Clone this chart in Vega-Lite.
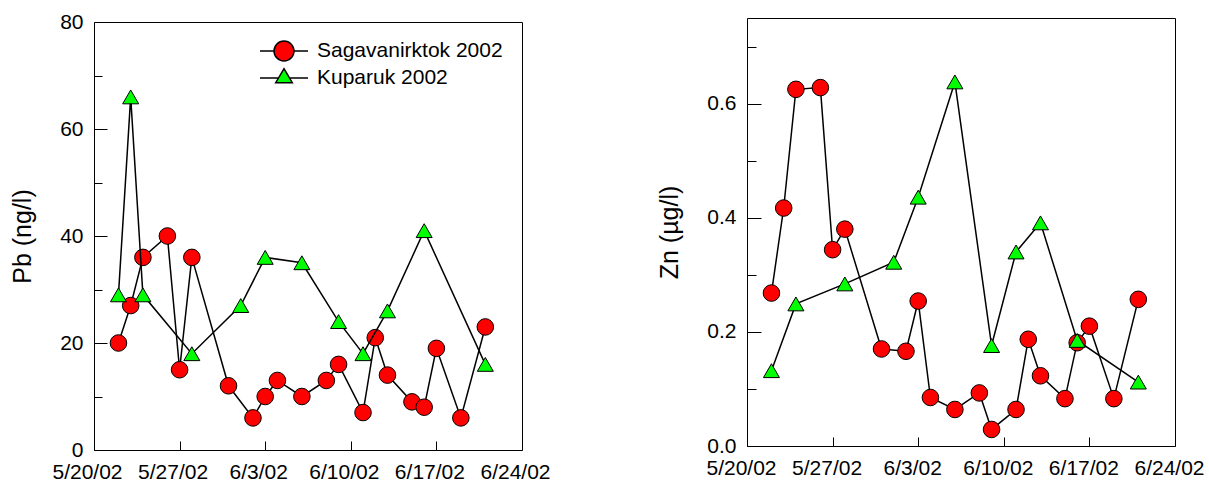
{
  "$schema": "https://vega.github.io/schema/vega-lite/v6.json",
  "background": "white",
  "padding": {"left": 10, "top": 10, "right": 5, "bottom": 5},
  "spacing": 106,
  "datasets": {
    "pb": [
      {"date": "2002/05/22", "series": "Sagavanirktok 2002", "value": 20},
      {"date": "2002/05/23", "series": "Sagavanirktok 2002", "value": 27},
      {"date": "2002/05/24", "series": "Sagavanirktok 2002", "value": 36},
      {"date": "2002/05/26", "series": "Sagavanirktok 2002", "value": 40},
      {"date": "2002/05/27", "series": "Sagavanirktok 2002", "value": 15},
      {"date": "2002/05/28", "series": "Sagavanirktok 2002", "value": 36},
      {"date": "2002/05/31", "series": "Sagavanirktok 2002", "value": 12},
      {"date": "2002/06/02", "series": "Sagavanirktok 2002", "value": 6},
      {"date": "2002/06/03", "series": "Sagavanirktok 2002", "value": 10},
      {"date": "2002/06/04", "series": "Sagavanirktok 2002", "value": 13},
      {"date": "2002/06/06", "series": "Sagavanirktok 2002", "value": 10},
      {"date": "2002/06/08", "series": "Sagavanirktok 2002", "value": 13},
      {"date": "2002/06/09", "series": "Sagavanirktok 2002", "value": 16},
      {"date": "2002/06/11", "series": "Sagavanirktok 2002", "value": 7},
      {"date": "2002/06/12", "series": "Sagavanirktok 2002", "value": 21},
      {"date": "2002/06/13", "series": "Sagavanirktok 2002", "value": 14},
      {"date": "2002/06/15", "series": "Sagavanirktok 2002", "value": 9},
      {"date": "2002/06/16", "series": "Sagavanirktok 2002", "value": 8},
      {"date": "2002/06/17", "series": "Sagavanirktok 2002", "value": 19},
      {"date": "2002/06/19", "series": "Sagavanirktok 2002", "value": 6},
      {"date": "2002/06/21", "series": "Sagavanirktok 2002", "value": 23},
      {"date": "2002/05/22", "series": "Kuparuk 2002", "value": 29},
      {"date": "2002/05/23", "series": "Kuparuk 2002", "value": 66},
      {"date": "2002/05/24", "series": "Kuparuk 2002", "value": 29},
      {"date": "2002/05/28", "series": "Kuparuk 2002", "value": 18},
      {"date": "2002/06/01", "series": "Kuparuk 2002", "value": 27},
      {"date": "2002/06/03", "series": "Kuparuk 2002", "value": 36},
      {"date": "2002/06/06", "series": "Kuparuk 2002", "value": 35},
      {"date": "2002/06/09", "series": "Kuparuk 2002", "value": 24},
      {"date": "2002/06/11", "series": "Kuparuk 2002", "value": 18},
      {"date": "2002/06/13", "series": "Kuparuk 2002", "value": 26},
      {"date": "2002/06/16", "series": "Kuparuk 2002", "value": 41},
      {"date": "2002/06/21", "series": "Kuparuk 2002", "value": 16}
    ],
    "zn": [
      {"date": "2002/05/22", "series": "Sagavanirktok 2002", "value": 0.268},
      {"date": "2002/05/23", "series": "Sagavanirktok 2002", "value": 0.417},
      {"date": "2002/05/24", "series": "Sagavanirktok 2002", "value": 0.625},
      {"date": "2002/05/26", "series": "Sagavanirktok 2002", "value": 0.628},
      {"date": "2002/05/27", "series": "Sagavanirktok 2002", "value": 0.344},
      {"date": "2002/05/28", "series": "Sagavanirktok 2002", "value": 0.380},
      {"date": "2002/05/31", "series": "Sagavanirktok 2002", "value": 0.170},
      {"date": "2002/06/02", "series": "Sagavanirktok 2002", "value": 0.166},
      {"date": "2002/06/03", "series": "Sagavanirktok 2002", "value": 0.254},
      {"date": "2002/06/04", "series": "Sagavanirktok 2002", "value": 0.085},
      {"date": "2002/06/06", "series": "Sagavanirktok 2002", "value": 0.064},
      {"date": "2002/06/08", "series": "Sagavanirktok 2002", "value": 0.093},
      {"date": "2002/06/09", "series": "Sagavanirktok 2002", "value": 0.029},
      {"date": "2002/06/11", "series": "Sagavanirktok 2002", "value": 0.064},
      {"date": "2002/06/12", "series": "Sagavanirktok 2002", "value": 0.187},
      {"date": "2002/06/13", "series": "Sagavanirktok 2002", "value": 0.123},
      {"date": "2002/06/15", "series": "Sagavanirktok 2002", "value": 0.083},
      {"date": "2002/06/16", "series": "Sagavanirktok 2002", "value": 0.181},
      {"date": "2002/06/17", "series": "Sagavanirktok 2002", "value": 0.210},
      {"date": "2002/06/19", "series": "Sagavanirktok 2002", "value": 0.083},
      {"date": "2002/06/21", "series": "Sagavanirktok 2002", "value": 0.257},
      {"date": "2002/05/22", "series": "Kuparuk 2002", "value": 0.132},
      {"date": "2002/05/24", "series": "Kuparuk 2002", "value": 0.249},
      {"date": "2002/05/28", "series": "Kuparuk 2002", "value": 0.284},
      {"date": "2002/06/01", "series": "Kuparuk 2002", "value": 0.322},
      {"date": "2002/06/03", "series": "Kuparuk 2002", "value": 0.436},
      {"date": "2002/06/06", "series": "Kuparuk 2002", "value": 0.638},
      {"date": "2002/06/09", "series": "Kuparuk 2002", "value": 0.176},
      {"date": "2002/06/11", "series": "Kuparuk 2002", "value": 0.340},
      {"date": "2002/06/13", "series": "Kuparuk 2002", "value": 0.391},
      {"date": "2002/06/16", "series": "Kuparuk 2002", "value": 0.185},
      {"date": "2002/06/21", "series": "Kuparuk 2002", "value": 0.112}
    ]
  },
  "hconcat": [
    {
      "vconcat": [
        {
          "width": 1,
          "height": 1,
          "view": {"stroke": null},
          "data": {"values": []},
          "mark": "rule",
          "encoding": {}
        },
        {
          "width": 428,
          "height": 428,
          "data": {"name": "pb"},
          "encoding": {
            "x": {
              "field": "date", "type": "temporal",
              "scale": {"domain": [{"year": 2002, "month": 5, "date": 20}, {"year": 2002, "month": 6, "date": 24}]},
              "axis": {
                "title": null, "format": "%-m/%-d/%y", "domain": false, "grid": false,
                "values": [{"year": 2002, "month": 5, "date": 20}, {"year": 2002, "month": 5, "date": 27}, {"year": 2002, "month": 6, "date": 3}, {"year": 2002, "month": 6, "date": 10}, {"year": 2002, "month": 6, "date": 17}, {"year": 2002, "month": 6, "date": 24}],
                "tickSize": -9, "labelPadding": 20, "labelOffset": -7, "labelFlush": false, "labelOverlap": false
              }
            },
            "y": {
              "field": "value", "type": "quantitative",
              "scale": {"domain": [0, 80], "nice": false, "zero": false},
              "axis": {
                "title": "Pb (ng/l)", "domain": false, "grid": false,
                "values": [0, 10, 20, 30, 40, 50, 60, 70, 80],
                "labelExpr": "datum.value % 20 === 0 ? datum.label : ''",
                "tickSize": {"condition": {"test": "datum.value % 20 === 0", "value": -13}, "value": -8},
                "labelPadding": 24, "titlePadding": 24, "labelFlush": false, "labelOverlap": false
              }
            }
          },
          "layer": [
            {
              "transform": [{"filter": "datum.series === 'Sagavanirktok 2002'"}],
              "mark": {"type": "line", "color": "black", "strokeWidth": 1.5}
            },
            {
              "transform": [{"filter": "datum.series === 'Sagavanirktok 2002'"}],
              "mark": {"type": "point", "shape": "circle", "filled": true, "size": 275, "stroke": "black", "strokeWidth": 1, "opacity": 1},
              "encoding": {
                "fill": {
                  "field": "series", "type": "nominal",
                  "scale": {"domain": ["Sagavanirktok 2002", "Kuparuk 2002"], "range": ["#ff0000", "#00ff00"]},
                  "legend": {
                    "orient": "none", "legendX": 179, "legendY": 18, "title": null,
                    "symbolSize": 400, "labelFontSize": 21, "labelOffset": 22, "rowPadding": 1, "padding": 0, "labelLimit": 400,
                    "symbolStrokeColor": "black", "symbolStrokeWidth": 1.5, "labelColor": "black",
                    "symbolType": {"expr": "datum.value === 'Kuparuk 2002' ? 'M-2.4,0L-0.55,0M0.55,0L2.4,0M0,-0.93L0.83,0.47L-0.83,0.47Z' : 'M-2.4,0L-1,0M1,0L2.4,0M-1,0A1,1,0,1,1,1,0A1,1,0,1,1,-1,0Z'"}
                  }
                }
              }
            },
            {
              "transform": [{"filter": "datum.series === 'Kuparuk 2002'"}],
              "mark": {"type": "line", "color": "black", "strokeWidth": 1.5}
            },
            {
              "transform": [{"filter": "datum.series === 'Kuparuk 2002'"}],
              "mark": {"type": "point", "shape": "triangle-up", "filled": true, "size": 256, "stroke": "black", "strokeWidth": 1, "opacity": 1},
              "encoding": {
                "fill": {
                  "field": "series", "type": "nominal",
                  "legend": {
                    "orient": "none", "legendX": 179, "legendY": 18, "title": null,
                    "symbolSize": 400, "labelFontSize": 21, "labelOffset": 22, "rowPadding": 1, "padding": 0, "labelLimit": 400,
                    "symbolStrokeColor": "black", "symbolStrokeWidth": 1.5, "labelColor": "black",
                    "symbolType": {"expr": "datum.value === 'Kuparuk 2002' ? 'M-2.4,0L-0.55,0M0.55,0L2.4,0M0,-0.93L0.83,0.47L-0.83,0.47Z' : 'M-2.4,0L-1,0M1,0L2.4,0M-1,0A1,1,0,1,1,1,0A1,1,0,1,1,-1,0Z'"}
                  }
                }
              }
            }
          ]
        }
      ],
      "spacing": 3,
      "bounds": "flush",
      "resolve": {"scale": {"fill": "independent"}, "legend": {"fill": "independent"}}
    },
    {
      "width": 428,
      "height": 428,
      "data": {"name": "zn"},
      "encoding": {
        "x": {
          "field": "date", "type": "temporal",
          "scale": {"domain": [{"year": 2002, "month": 5, "date": 20}, {"year": 2002, "month": 6, "date": 24}]},
          "axis": {
            "title": null, "format": "%-m/%-d/%y", "domain": false, "grid": false,
            "values": [{"year": 2002, "month": 5, "date": 20}, {"year": 2002, "month": 5, "date": 27}, {"year": 2002, "month": 6, "date": 3}, {"year": 2002, "month": 6, "date": 10}, {"year": 2002, "month": 6, "date": 17}, {"year": 2002, "month": 6, "date": 24}],
            "tickSize": -9, "labelPadding": 20, "labelOffset": -6, "labelFlush": false, "labelOverlap": false
          }
        },
        "y": {
          "field": "value", "type": "quantitative",
          "scale": {"domain": [0, 0.75], "nice": false, "zero": false},
          "axis": {
            "title": "Zn (µg/l)", "domain": false, "grid": false, "format": ".1f",
            "values": [0, 0.1, 0.2, 0.3, 0.4, 0.5, 0.6, 0.7],
            "labelExpr": "round(datum.value * 10) % 2 === 0 ? datum.label : ''",
            "tickSize": {"condition": {"test": "round(datum.value * 10) % 2 === 0", "value": -14}, "value": -9},
            "labelPadding": 25, "titlePadding": 24, "labelFlush": false, "labelOverlap": false
          }
        }
      },
      "layer": [
        {
          "transform": [{"filter": "datum.series === 'Sagavanirktok 2002'"}],
          "mark": {"type": "line", "color": "black", "strokeWidth": 1.5}
        },
        {
          "transform": [{"filter": "datum.series === 'Sagavanirktok 2002'"}],
          "mark": {"type": "point", "shape": "circle", "filled": true, "size": 275, "stroke": "black", "strokeWidth": 1, "opacity": 1},
          "encoding": {
            "fill": {
              "field": "series", "type": "nominal",
              "scale": {"domain": ["Sagavanirktok 2002", "Kuparuk 2002"], "range": ["#ff0000", "#00ff00"]},
              "legend": null
            }
          }
        },
        {
          "transform": [{"filter": "datum.series === 'Kuparuk 2002'"}],
          "mark": {"type": "line", "color": "black", "strokeWidth": 1.5}
        },
        {
          "transform": [{"filter": "datum.series === 'Kuparuk 2002'"}],
          "mark": {"type": "point", "shape": "triangle-up", "filled": true, "size": 256, "stroke": "black", "strokeWidth": 1, "opacity": 1},
          "encoding": {
            "fill": {"field": "series", "type": "nominal", "legend": null}
          }
        }
      ]
    }
  ],
  "resolve": {"scale": {"fill": "independent"}, "legend": {"fill": "independent"}},
  "config": {
    "font": "Liberation Sans",
    "view": {"stroke": "black", "strokeWidth": 1},
    "axis": {
      "labelFont": "Liberation Sans", "labelFontSize": 21, "labelColor": "black",
      "titleFont": "Liberation Sans", "titleFontSize": 25, "titleFontWeight": "normal", "titleColor": "black",
      "tickColor": "black", "tickWidth": 1
    },
    "legend": {"labelFont": "Liberation Sans"}
  }
}
